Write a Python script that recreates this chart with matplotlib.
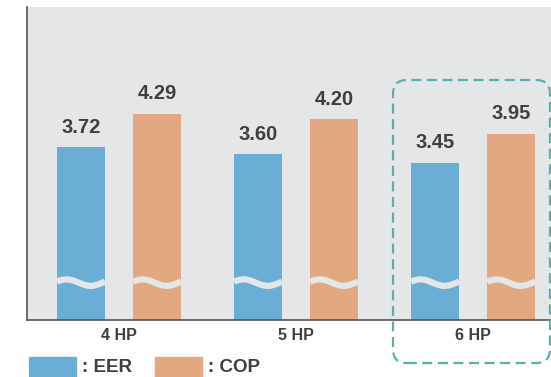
import matplotlib.pyplot as plt
import numpy as np
from matplotlib.patches import FancyBboxPatch, Rectangle

# data
categories = ["4 HP", "5 HP", "6 HP"]
eer = [3.72, 3.60, 3.45]
cop = [4.29, 4.20, 3.95]
highlight = 2  # 6 HP

plt.rcParams['font.family'] = ['Liberation Sans', 'DejaVu Sans']

C_EER = "#6aaed6"
C_COP = "#e2a880"
C_TXT = "#3f3f3f"
C_BG = "#e5e6e8"
C_BOX = "#5aaeab"

W, H = 551, 377
fig = plt.figure(figsize=(W / 100, H / 100), dpi=100)
ax = fig.add_axes([27 / W, 1 - 320 / H, 1 - 27 / W, (320 - 7) / H])
ax.set_facecolor(C_BG)

x = np.arange(len(categories))
bw = 0.271
off = 0.215
ax.bar(x - off, eer, bw, color=C_EER, zorder=2)
ax.bar(x + off, cop, bw, color=C_COP, zorder=2)

ax.set_xlim(-0.52, 2.44)
ax.set_ylim(0.76, 6.12)

# value labels
for xi, v in zip(x - off, eer):
    ax.annotate(f"{v:.2f}", (xi, v), xytext=(0, 7.5), textcoords="offset points",
                ha="center", va="bottom", fontsize=14.5, fontweight="bold", color=C_TXT)
for xi, v in zip(x + off, cop):
    ax.annotate(f"{v:.2f}", (xi, v), xytext=(0, 7.5), textcoords="offset points",
                ha="center", va="bottom", fontsize=14.5, fontweight="bold", color=C_TXT)

# break marks (white wave across each bar)
t = np.linspace(0, 1, 60)
for xc in np.concatenate([x - off, x + off]):
    wx = xc - bw / 2 + t * bw
    wy = 1.40 + 0.055 * np.cos(2 * np.pi * (t - 0.2))
    ax.plot(wx, wy, color=C_BG, lw=4.5, solid_capstyle="butt", zorder=3)

ax.set_xticks(x)
ax.set_xticklabels(categories, fontsize=11.5, fontweight="bold", color=C_TXT)
ax.tick_params(axis="x", length=0, pad=6)
ax.set_yticks([])
for s in ["top", "right"]:
    ax.spines[s].set_visible(False)
for s in ["left", "bottom"]:
    ax.spines[s].set_color("#555555")
    ax.spines[s].set_linewidth(1.2)

# dashed highlight box (pixel coords)
bx0, bx1, by0, by1 = 393, 550, 80, 363
box = FancyBboxPatch((bx0 / W, 1 - by1 / H), (bx1 - bx0) / W, (by1 - by0) / H,
                     boxstyle="round,pad=0,rounding_size=0.025",
                     transform=fig.transFigure, fill=False, edgecolor=C_BOX,
                     lw=1.6, linestyle=(0, (4.5, 2.5)), zorder=5,
                     mutation_aspect=W / H)
fig.patches.append(box)

# legend
fig.patches.append(Rectangle((29 / W, 0), 47 / W, 20 / H, transform=fig.transFigure,
                             color=C_EER))
fig.patches.append(Rectangle((155 / W, 0), 47 / W, 20 / H, transform=fig.transFigure,
                             color=C_COP))
fig.text(82 / W, 1 - 367 / H, ": EER", fontsize=13.5, fontweight="bold",
         color=C_TXT, va="center", ha="left")
fig.text(208 / W, 1 - 367 / H, ": COP", fontsize=13.5, fontweight="bold",
         color=C_TXT, va="center", ha="left")

fig.savefig("out.png", dpi=100)
